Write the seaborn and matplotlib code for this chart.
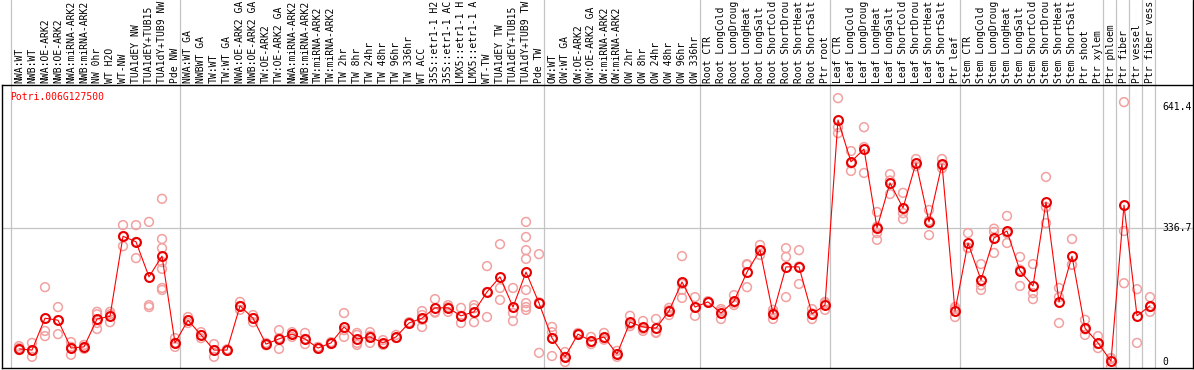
import numpy as np
import pandas as pd
import seaborn as sns
import matplotlib.pyplot as plt
from matplotlib.transforms import blended_transform_factory

# sample labels, one per column
labels = ["NWA:WT", "NWB:WT", "NWA:OE-ARK2", "NWB:OE-ARK2", "NWA:miRNA-ARK2", "NWB:miRNA-ARK2",
          "NW 0hr", "WT H2O", "WT-NW", "TUA1dEY NW", "TUA1dEY+TUB15 NW", "TUA1dY+TUB9 NW", "Pde NW",
          "NWA:WT GA", "NWBWT GA", "TW:WT", "TW:WT GA", "NWA:OE-ARK2 GA", "NWB:OE-ARK2 GA",
          "TW:OE-ARK2", "TW:OE-ARK2 GA", "NWA:miRNA-ARK2", "NWB:miRNA-ARK2", "TW:miRNA-ARK2",
          "TW:miRNA-ARK2", "TW 2hr", "TW 8hr", "TW 24hr", "TW 48hr", "TW 96hr", "TW 336hr",
          "WT ACC", "35S::etr1-1 H2O", "35S::etr1-1 ACC", "LMX5::etr1-1 H2O", "LMX5::etr1-1 ACC",
          "WT-TW", "TUA1dEY TW", "TUA1dEY+TUB15 TW", "TUA1dY+TUB9 TW", "Pde TW",
          "OW:WT", "OW:WT GA", "OW:OE-ARK2", "OW:OE-ARK2 GA", "OW:miRNA-ARK2", "OW:miRNA-ARK2",
          "OW 2hr", "OW 8hr", "OW 24hr", "OW 48hr", "OW 96hr", "OW 336hr",
          "Root CTR", "Root LongCold", "Root LongDrought", "Root LongHeat", "Root LongSalt",
          "Root ShortCold", "Root ShortDrought", "Root ShortHeat", "Root ShortSalt", "Ptr root",
          "Leaf CTR", "Leaf LongCold", "Leaf LongDrought", "Leaf LongHeat", "Leaf LongSalt",
          "Leaf ShortCold", "Leaf ShortDrought", "Leaf ShortHeat", "Leaf ShortSalt", "Ptr leaf",
          "Stem CTR", "Stem LongCold", "Stem LongDrought", "Stem LongHeat", "Stem LongSalt",
          "Stem ShortCold", "Stem ShortDrought", "Stem ShortHeat", "Stem ShortSalt", "Ptr shoot",
          "Ptr xylem", "Ptr phloem", "Ptr fiber", "Ptr vessel", "Ptr fiber vessel"]

# mean expression per sample
means = [33, 30, 110, 105, 35, 38, 108, 115, 316, 302, 214, 266, 48,
         105, 68, 30, 30, 141, 110, 45, 58, 70, 58, 35, 48, 88, 58, 63, 48, 63, 98, 110,
         136, 136, 116, 126, 176, 214, 138, 226, 148,
         60, 13, 70, 53, 63, 20, 100, 88, 85, 128, 201, 138,
         151, 123, 153, 226, 281, 121, 239, 239, 121, 143,
         608, 503, 535, 337, 450, 387, 500, 352, 497, 128,
         299, 206, 312, 329, 229, 191, 402, 151, 266, 85, 48,
         2, 394, 116, 141]

# replicate values per sample
reps = [[40, 30, 35], [48, 13, 30], [188, 78, 65], [138, 70, 105], [50, 18, 38], [43, 33, 38],
        [126, 98, 83, 120], [126, 100, 120], [344, 291, 316], [344, 261, 302], [352, 143, 138],
        [410, 309, 286, 251, 234, 186, 181], [60, 38, 48],
        [113, 98, 105], [75, 60, 68], [45, 13, 30], [32, 28, 30], [151, 141, 131], [118, 100, 110],
        [48, 45, 42], [80, 33, 60], [75, 63, 70], [73, 45, 58], [38, 35, 33], [50, 48, 45],
        [123, 63, 80], [73, 48, 43, 68], [75, 48, 66], [55, 45, 43], [68, 60, 61], [100, 96, 98],
        [128, 88, 118, 106], [158, 126, 124], [143, 126, 138], [136, 98, 116], [143, 100, 135],
        [241, 113, 176], [296, 186, 156], [186, 123, 103],
        [352, 314, 281, 259, 181, 148, 138, 131], [271, 23, 150],
        [88, 75, 15, 60], [25, 0, 13], [73, 68, 70], [63, 45, 50], [73, 60, 56], [28, 13, 20],
        [116, 90, 95], [103, 78, 83], [108, 73, 75], [136, 118, 130], [266, 181, 161, 196],
        [163, 116, 136],
        [153, 151, 149], [133, 108, 128], [168, 143, 148], [244, 188, 246], [294, 269, 281],
        [131, 108, 124], [286, 264, 163], [281, 196, 240], [133, 108, 122], [151, 131, 147],
        [663, 590, 575], [530, 480, 499], [590, 540, 475], [377, 324, 307, 340], [472, 422, 456],
        [425, 374, 359], [510, 492, 498], [382, 319, 355], [510, 487, 494], [138, 113, 133],
        [324, 286, 287], [246, 193, 181], [327, 274, 335], [367, 299, 324], [264, 191, 232],
        [246, 173, 158], [465, 389, 349], [186, 163, 98], [309, 244, 245], [106, 68, 82],
        [65, 35, 45], [10, -12, 8], [653, 329, 198], [183, 48], [163, 138, 126]]

# column index where each group starts
group_starts = [0, 13, 41, 53, 63, 73, 84, 85, 86, 87, 88]
ytick_vals = [641.4, 336.7, 0]
ytick_text = ["641.4", "336.7", "0"]
gene = "Potri.006G127500"
max_chars = 14  # the header only has room for this many characters

sns.set_style("white")
plt.rcParams['font.family'] = ['DejaVu Sans Mono']

W, H = 1194, 370
fig = plt.figure(figsize=(W / 100, H / 100), dpi=100)
# frame in pixels: x 2..1193, y 85..368
ax = fig.add_axes([2 / W, (H - 368) / H, 1191 / W, 283 / H])

idx = np.arange(len(means))
rep_df = pd.DataFrame([(i, v) for i, vals in enumerate(reps) for v in vals], columns=["sample", "value"])

sns.scatterplot(data=rep_df, x="sample", y="value", ax=ax, marker="o", s=40,
                facecolors="none", edgecolor="#f2a0a0", linewidth=1.1, zorder=3)
sns.lineplot(x=idx, y=means, ax=ax, color="red", linewidth=0.8, marker="o", markersize=6.4,
             markerfacecolor="none", markeredgecolor="#e80000", markeredgewidth=1.5, zorder=4)

ax.set_xlim((2 - 19) / 13, (1193 - 19) / 13)
ax.set_ylim(-15.1, 696)
ax.set_xticks([])
ax.set_yticks([])
ax.set_xlabel("")
ax.set_ylabel("")

ext = 1 + 85 / 283
for g in group_starts:
    ax.axvline(g - 0.6, ymin=0, ymax=ext, color="#c4c4c4", lw=0.9, clip_on=False, zorder=1)
ax.axhline(336.7, color="#c4c4c4", lw=0.9, zorder=1)

for s in ax.spines.values():
    s.set_color("black")
    s.set_linewidth(1.0)
ax.plot([1, 1], [1, ext], transform=ax.transAxes, color="black", lw=1.0, clip_on=False)

trans = blended_transform_factory(ax.transData, ax.transAxes)
for i, lab in enumerate(labels):
    ax.text(i, 1 + 2 / 283, lab[:max_chars], transform=trans, rotation=90, ha="center", va="bottom",
            fontsize=7, color="black")

ax.text(8 / 1191, (368 - 92) / 283, gene, transform=ax.transAxes, ha="left", va="top",
        fontsize=7, color="red")

for v, t in zip(ytick_vals, ytick_text):
    ax.text((1162 - 2) / 1191, v, t, transform=blended_transform_factory(ax.transAxes, ax.transData),
            ha="left", va="center", fontsize=7, color="black")

fig.savefig("out.png", dpi=100)
